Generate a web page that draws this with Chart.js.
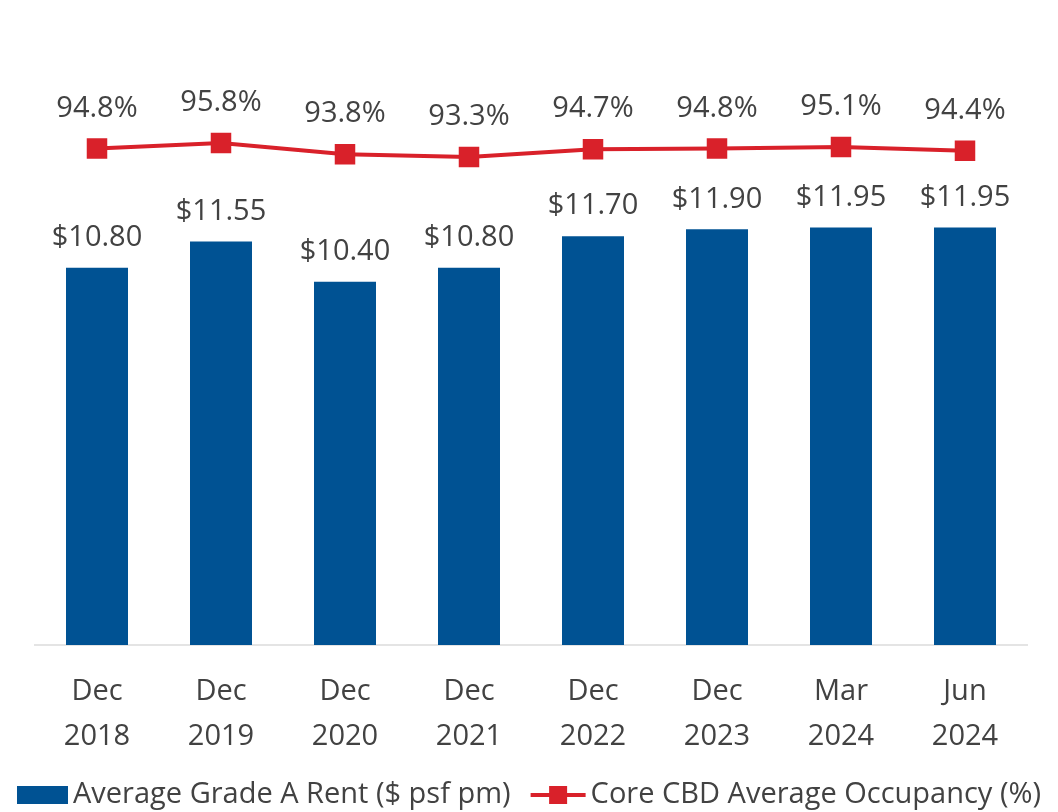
<!DOCTYPE html>
<html>
<head>
<meta charset="utf-8">
<title>Grade A Rent and Core CBD Occupancy</title>
<script src="https://cdn.jsdelivr.net/npm/chart.js@4.4.1/dist/chart.umd.min.js"></script>
<style>
  html, body { margin: 0; padding: 0; background: #fff; }
  #wrap { width: 1058px; height: 812px; position: relative; }
</style>
</head>
<body>
<div id="wrap"><canvas id="chart" width="1058" height="812"></canvas></div>
<script>
var periods = [['Dec', '2018'], ['Dec', '2019'], ['Dec', '2020'], ['Dec', '2021'],
               ['Dec', '2022'], ['Dec', '2023'], ['Mar', '2024'], ['Jun', '2024']];
var rent = [10.80, 11.55, 10.40, 10.80, 11.70, 11.90, 11.95, 11.95];
var occupancy = [94.8, 95.8, 93.8, 93.3, 94.7, 94.8, 95.1, 94.4];
var rentLabel = 'Average Grade A Rent ($ psf pm)';
var occLabel = 'Core CBD Average Occupancy (%)';

var BLUE = '#005293';
var RED = '#d9212a';
var TEXT = '#424242';
var FONT = '"Open Sans", "Noto Sans", sans-serif';
var FONT_SIZE = 29;

// value labels above bars and points
var valueLabels = {
  id: 'valueLabels',
  afterDatasetsDraw: function(chart) {
    var ctx = chart.ctx;
    ctx.save();
    ctx.font = FONT_SIZE + 'px ' + FONT;
    ctx.fillStyle = TEXT;
    ctx.textAlign = 'center';
    ctx.textBaseline = 'middle';
    chart.getDatasetMeta(0).data.forEach(function(el, i) {
      ctx.fillText('$' + rent[i].toFixed(2), el.x, el.y - 30);
    });
    chart.getDatasetMeta(1).data.forEach(function(el, i) {
      ctx.fillText(occupancy[i].toFixed(1) + '%', el.x, el.y - 40);
    });
    ctx.restore();
  }
};

// legend drawn by hand so the sizes match the original
var bottomLegend = {
  id: 'bottomLegend',
  afterDraw: function(chart) {
    var ctx = chart.ctx;
    ctx.save();
    ctx.font = FONT_SIZE + 'px ' + FONT;
    var w1 = ctx.measureText(rentLabel).width;
    var w2 = ctx.measureText(occLabel).width;
    var boxW = 51, lineW = 55, gap = 5, itemGap = 20;
    var total = boxW + gap + w1 + itemGap + lineW + gap + w2;
    var x = chart.width / 2 - total / 2;
    var y = 795;

    ctx.fillStyle = BLUE;
    ctx.fillRect(x, y - 9, boxW, 18);
    x += boxW + gap;
    ctx.fillStyle = TEXT;
    ctx.textBaseline = 'middle';
    ctx.textAlign = 'left';
    ctx.fillText(rentLabel, x, y);
    x += w1 + itemGap;

    ctx.strokeStyle = RED;
    ctx.lineWidth = 4;
    ctx.beginPath();
    ctx.moveTo(x, y);
    ctx.lineTo(x + lineW, y);
    ctx.stroke();
    ctx.fillStyle = RED;
    ctx.fillRect(x + lineW / 2 - 9, y - 9, 18, 18);
    x += lineW + gap;
    ctx.fillStyle = TEXT;
    ctx.fillText(occLabel, x, y);
    ctx.restore();
  }
};

var chart = new Chart(document.getElementById('chart'), {
  data: {
    labels: periods,
    datasets: [
      {
        type: 'bar',
        label: rentLabel,
        data: rent,
        backgroundColor: BLUE,
        yAxisID: 'y',
        categoryPercentage: 0.5,
        barPercentage: 1.0,
        order: 2
      },
      {
        type: 'line',
        label: occLabel,
        data: occupancy,
        borderColor: RED,
        backgroundColor: RED,
        borderWidth: 4,
        pointStyle: 'rect',
        pointRadius: 14.5,
        pointBorderWidth: 0,
        tension: 0,
        yAxisID: 'y1',
        order: 1
      }
    ]
  },
  options: {
    responsive: false,
    animation: false,
    devicePixelRatio: 1,
    layout: { padding: { top: 86, left: 35, right: 31, bottom: 29 } },
    plugins: {
      legend: { display: false },
      tooltip: { enabled: false }
    },
    scales: {
      x: {
        grid: { display: false, drawTicks: false },
        border: { display: true, color: '#e4e4e4', width: 2 },
        ticks: {
          color: TEXT,
          padding: 24,
          maxRotation: 0,
          font: { family: FONT, size: FONT_SIZE, lineHeight: 45 / 29 }
        }
      },
      y: {
        display: false,
        min: 0,
        max: 16
      },
      y1: {
        display: false,
        position: 'right',
        min: 6,
        max: 106
      }
    }
  },
  plugins: [valueLabels, bottomLegend]
});
</script>
</body>
</html>
